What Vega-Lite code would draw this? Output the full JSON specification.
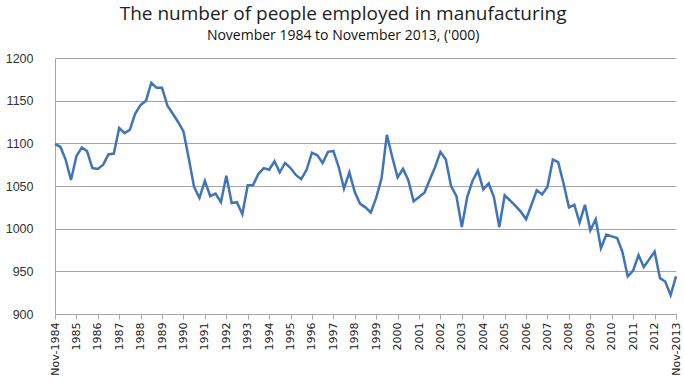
{
  "$schema": "https://vega.github.io/schema/vega-lite/v6.json",
  "width": 621,
  "height": 256,
  "autosize": "none",
  "padding": {"left": 55, "top": 58, "right": 8, "bottom": 71},
  "background": "white",
  "title": {
    "text": "The number of people employed in manufacturing",
    "subtitle": "November 1984 to November 2013, ('000)",
    "anchor": "middle",
    "frame": "bounds",
    "font": "Open Sans",
    "fontSize": 19,
    "fontWeight": "normal",
    "color": "#222222",
    "subtitleFont": "Open Sans",
    "subtitleFontSize": 14,
    "subtitleColor": "#111111",
    "subtitlePadding": 5,
    "offset": 9
  },
  "config": {
    "view": {"stroke": null},
    "axis": {"gridColor": "#a6a6a6", "domainColor": "#a6a6a6", "tickColor": "#a6a6a6"}
  },
  "data": {
    "values": [
      {"date": "1984-11-01", "value": 1099},
      {"date": "1985-02-01", "value": 1096},
      {"date": "1985-05-01", "value": 1081},
      {"date": "1985-08-01", "value": 1057},
      {"date": "1985-11-01", "value": 1085},
      {"date": "1986-02-01", "value": 1095},
      {"date": "1986-05-01", "value": 1091},
      {"date": "1986-08-01", "value": 1071},
      {"date": "1986-11-01", "value": 1070},
      {"date": "1987-02-01", "value": 1075},
      {"date": "1987-05-01", "value": 1087},
      {"date": "1987-08-01", "value": 1088},
      {"date": "1987-11-01", "value": 1118},
      {"date": "1988-02-01", "value": 1112},
      {"date": "1988-05-01", "value": 1116},
      {"date": "1988-08-01", "value": 1135},
      {"date": "1988-11-01", "value": 1145},
      {"date": "1989-02-01", "value": 1150},
      {"date": "1989-05-01", "value": 1171},
      {"date": "1989-08-01", "value": 1165},
      {"date": "1989-11-01", "value": 1165},
      {"date": "1990-02-01", "value": 1144},
      {"date": "1990-05-01", "value": 1135},
      {"date": "1990-08-01", "value": 1125},
      {"date": "1990-11-01", "value": 1114},
      {"date": "1991-02-01", "value": 1082},
      {"date": "1991-05-01", "value": 1049},
      {"date": "1991-08-01", "value": 1036},
      {"date": "1991-11-01", "value": 1056},
      {"date": "1992-02-01", "value": 1038},
      {"date": "1992-05-01", "value": 1041},
      {"date": "1992-08-01", "value": 1031},
      {"date": "1992-11-01", "value": 1062},
      {"date": "1993-02-01", "value": 1030},
      {"date": "1993-05-01", "value": 1031},
      {"date": "1993-08-01", "value": 1017},
      {"date": "1993-11-01", "value": 1051},
      {"date": "1994-02-01", "value": 1051},
      {"date": "1994-05-01", "value": 1064},
      {"date": "1994-08-01", "value": 1071},
      {"date": "1994-11-01", "value": 1069},
      {"date": "1995-02-01", "value": 1079},
      {"date": "1995-05-01", "value": 1066},
      {"date": "1995-08-01", "value": 1077},
      {"date": "1995-11-01", "value": 1071},
      {"date": "1996-02-01", "value": 1063},
      {"date": "1996-05-01", "value": 1058},
      {"date": "1996-08-01", "value": 1069},
      {"date": "1996-11-01", "value": 1089},
      {"date": "1997-02-01", "value": 1086},
      {"date": "1997-05-01", "value": 1077},
      {"date": "1997-08-01", "value": 1090},
      {"date": "1997-11-01", "value": 1091},
      {"date": "1998-02-01", "value": 1072},
      {"date": "1998-05-01", "value": 1047},
      {"date": "1998-08-01", "value": 1066},
      {"date": "1998-11-01", "value": 1043},
      {"date": "1999-02-01", "value": 1029},
      {"date": "1999-05-01", "value": 1025},
      {"date": "1999-08-01", "value": 1019},
      {"date": "1999-11-01", "value": 1036},
      {"date": "2000-02-01", "value": 1059},
      {"date": "2000-05-01", "value": 1110},
      {"date": "2000-08-01", "value": 1084},
      {"date": "2000-11-01", "value": 1060},
      {"date": "2001-02-01", "value": 1070},
      {"date": "2001-05-01", "value": 1057},
      {"date": "2001-08-01", "value": 1032},
      {"date": "2001-11-01", "value": 1037},
      {"date": "2002-02-01", "value": 1042},
      {"date": "2002-05-01", "value": 1057},
      {"date": "2002-08-01", "value": 1072},
      {"date": "2002-11-01", "value": 1090},
      {"date": "2003-02-01", "value": 1081},
      {"date": "2003-05-01", "value": 1050},
      {"date": "2003-08-01", "value": 1038},
      {"date": "2003-11-01", "value": 1002},
      {"date": "2004-02-01", "value": 1037},
      {"date": "2004-05-01", "value": 1056},
      {"date": "2004-08-01", "value": 1068},
      {"date": "2004-11-01", "value": 1046},
      {"date": "2005-02-01", "value": 1053},
      {"date": "2005-05-01", "value": 1037},
      {"date": "2005-08-01", "value": 1002},
      {"date": "2005-11-01", "value": 1039},
      {"date": "2006-02-01", "value": 1033},
      {"date": "2006-05-01", "value": 1027},
      {"date": "2006-08-01", "value": 1020},
      {"date": "2006-11-01", "value": 1011},
      {"date": "2007-02-01", "value": 1028},
      {"date": "2007-05-01", "value": 1045},
      {"date": "2007-08-01", "value": 1040},
      {"date": "2007-11-01", "value": 1049},
      {"date": "2008-02-01", "value": 1081},
      {"date": "2008-05-01", "value": 1078},
      {"date": "2008-08-01", "value": 1053},
      {"date": "2008-11-01", "value": 1025},
      {"date": "2009-02-01", "value": 1028},
      {"date": "2009-05-01", "value": 1007},
      {"date": "2009-08-01", "value": 1028},
      {"date": "2009-11-01", "value": 998},
      {"date": "2010-02-01", "value": 1011},
      {"date": "2010-05-01", "value": 977},
      {"date": "2010-08-01", "value": 993},
      {"date": "2010-11-01", "value": 991},
      {"date": "2011-02-01", "value": 989},
      {"date": "2011-05-01", "value": 973},
      {"date": "2011-08-01", "value": 944},
      {"date": "2011-11-01", "value": 951},
      {"date": "2012-02-01", "value": 969},
      {"date": "2012-05-01", "value": 955},
      {"date": "2012-08-01", "value": 964},
      {"date": "2012-11-01", "value": 973},
      {"date": "2013-02-01", "value": 942},
      {"date": "2013-05-01", "value": 938},
      {"date": "2013-08-01", "value": 922},
      {"date": "2013-11-01", "value": 944}
    ]
  },
  "mark": {"type": "line", "color": "#3f74b8", "strokeWidth": 2.5, "strokeJoin": "miter"},
  "encoding": {
    "x": {
      "field": "date",
      "type": "temporal",
      "scale": {
        "type": "utc",
        "domain": [
          {"year": 1984, "month": 11, "date": 1, "utc": true},
          {"year": 2013, "month": 11, "date": 1, "utc": true}
        ]
      },
      "axis": {
        "title": null,
        "grid": false,
        "values": [
          {"year": 1984, "month": 11, "date": 1, "utc": true},
          {"year": 1985, "month": 11, "date": 1, "utc": true},
          {"year": 1986, "month": 11, "date": 1, "utc": true},
          {"year": 1987, "month": 11, "date": 1, "utc": true},
          {"year": 1988, "month": 11, "date": 1, "utc": true},
          {"year": 1989, "month": 11, "date": 1, "utc": true},
          {"year": 1990, "month": 11, "date": 1, "utc": true},
          {"year": 1991, "month": 11, "date": 1, "utc": true},
          {"year": 1992, "month": 11, "date": 1, "utc": true},
          {"year": 1993, "month": 11, "date": 1, "utc": true},
          {"year": 1994, "month": 11, "date": 1, "utc": true},
          {"year": 1995, "month": 11, "date": 1, "utc": true},
          {"year": 1996, "month": 11, "date": 1, "utc": true},
          {"year": 1997, "month": 11, "date": 1, "utc": true},
          {"year": 1998, "month": 11, "date": 1, "utc": true},
          {"year": 1999, "month": 11, "date": 1, "utc": true},
          {"year": 2000, "month": 11, "date": 1, "utc": true},
          {"year": 2001, "month": 11, "date": 1, "utc": true},
          {"year": 2002, "month": 11, "date": 1, "utc": true},
          {"year": 2003, "month": 11, "date": 1, "utc": true},
          {"year": 2004, "month": 11, "date": 1, "utc": true},
          {"year": 2005, "month": 11, "date": 1, "utc": true},
          {"year": 2006, "month": 11, "date": 1, "utc": true},
          {"year": 2007, "month": 11, "date": 1, "utc": true},
          {"year": 2008, "month": 11, "date": 1, "utc": true},
          {"year": 2009, "month": 11, "date": 1, "utc": true},
          {"year": 2010, "month": 11, "date": 1, "utc": true},
          {"year": 2011, "month": 11, "date": 1, "utc": true},
          {"year": 2012, "month": 11, "date": 1, "utc": true},
          {"year": 2013, "month": 11, "date": 1, "utc": true}
        ],
        "labelExpr": "(utcyear(datum.value) == 1984 || utcyear(datum.value) == 2013) ? 'Nov-' + utcyear(datum.value) : '' + utcyear(datum.value)",
        "labelAngle": -90,
        "labelFont": "DejaVu Sans",
        "labelFontSize": 11,
        "labelColor": "#222222",
        "labelPadding": 3,
        "tickSize": 5,
        "labelOverlap": false,
        "labelFlush": false,
        "labelBound": false
      }
    },
    "y": {
      "field": "value",
      "type": "quantitative",
      "scale": {"domain": [900, 1200], "zero": false, "nice": false},
      "axis": {
        "title": null,
        "values": [900, 950, 1000, 1050, 1100, 1150, 1200],
        "format": "d",
        "ticks": false,
        "labelPadding": 22,
        "labelFont": "Liberation Sans",
        "labelFontSize": 12.5,
        "labelColor": "#333333",
        "domain": true
      }
    }
  }
}
